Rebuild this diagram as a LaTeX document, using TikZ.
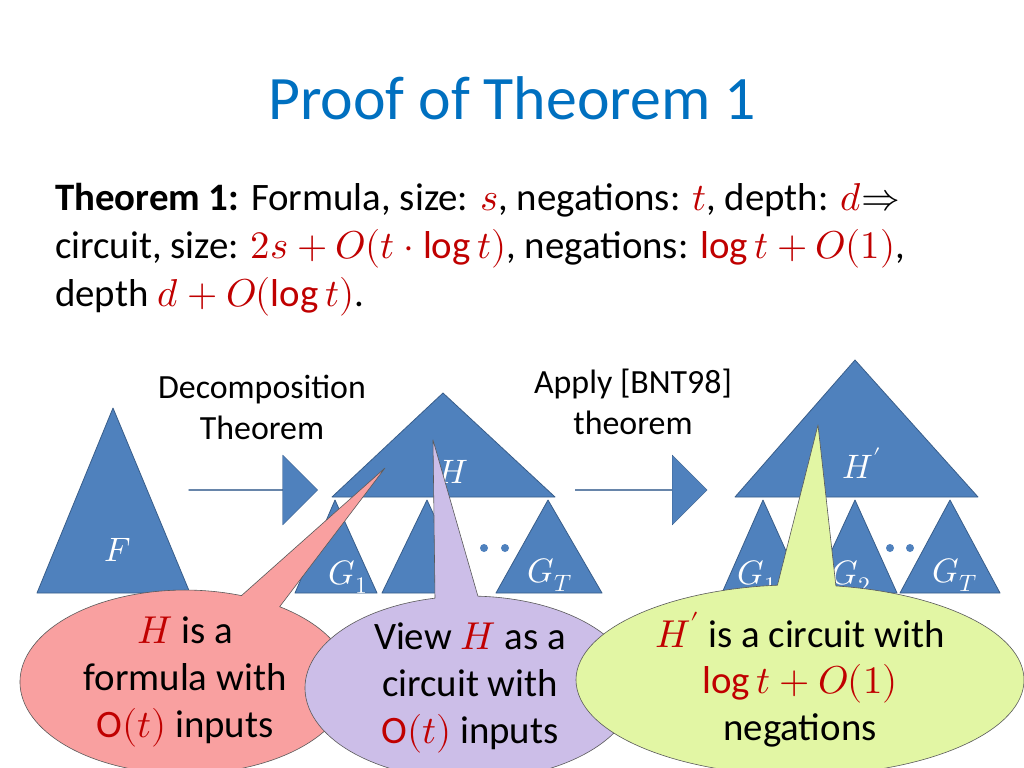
\documentclass[tikz,border=0pt]{standalone}
\usepackage{fontspec}
\usepackage{unicode-math}
\setmainfont{Carlito}
\setmathfont{Latin Modern Math}
\usetikzlibrary{shapes.callouts,shapes.arrows}
\definecolor{tri}{RGB}{79,129,189}
\definecolor{triline}{RGB}{56,93,138}
\definecolor{ttl}{RGB}{0,112,192}
\definecolor{mred}{RGB}{192,0,0}
\definecolor{redfill}{RGB}{249,160,160}
\definecolor{purfill}{RGB}{204,190,232}
\definecolor{grnfill}{RGB}{226,246,164}
\newcommand{\rd}[1]{\textcolor{mred}{$#1$}}
\tikzset{
  tribox/.style={fill=tri,draw=triline,line width=0.8pt},
  bubble/.style={ellipse callout,draw=gray!70!black,line width=0.6pt,align=center,font=\fontsize{39}{47}\selectfont,inner sep=0pt},
  lbl/.style={font=\fontsize{34}{41}\selectfont,align=center},
  mlbl/.style={text=white,font=\fontsize{34}{36}\selectfont},
  bigarrow/.style={single arrow,fill=tri,draw=triline,minimum width=70bp,single arrow head extend=17bp,inner sep=0pt}
}
\begin{document}
\begin{tikzpicture}[line cap=round,line join=round,x=1bp,y=-1bp]
\useasboundingbox[fill=white] (0,0) rectangle (1024,768);
% title and statement
\node[text=ttl,font=\fontsize{62}{70}\selectfont] (title) at (512,98) {Proof of Theorem 1};
\node[anchor=north west,align=left,font=\fontsize{39}{48}\selectfont,inner sep=0pt] (thm) at (55,183)
 {\textbf{Theorem 1:} Formula, size: \rd{s}, negations: \rd{t}, depth: \rd{d}$\Rightarrow$\\
  circuit, size: \rd{2s+O(t\cdot\log t)}, negations: \rd{\log t+O(1)},\\
  depth \rd{d+O(\log t)}.};
% F
\draw[tribox] (113,408) -- (190,593) -- (37,593) -- cycle;
\node[mlbl] (f) at (118,550) {$F$};
% arrows
\node[bigarrow,minimum height=129bp] (ar1) at (253,490) {};
\node[bigarrow,minimum height=132bp] (ar2) at (641,490) {};
\node[lbl] (dec) at (262,407) {Decomposition\\Theorem};
\node[lbl] (bnt) at (633,402) {Apply [BNT98]\\theorem};
% H and its G's
\draw[tribox] (443,393) -- (555,497) -- (332,497) -- cycle;
\node[mlbl] (h) at (453,472) {$H$};
\draw[tribox] (335,500) -- (377,593) -- (295,593) -- cycle;
\draw[tribox] (427,500) -- (470,593) -- (382,593) -- cycle;
\draw[tribox] (548,500) -- (602,593) -- (496,593) -- cycle;
\node[mlbl] (g1) at (348,577) {$G_1$};
\node[mlbl] (gt) at (550,575) {$G_T$};
\foreach \x in {484,505} \fill[tri] (\x,548) circle (4bp);
% H' and its G's
\draw[tribox] (855,360) -- (978,497) -- (735,497) -- cycle;
\node[mlbl] (hp) at (862,463) {$H'$};
\draw[tribox] (763,500) -- (805,593) -- (722,593) -- cycle;
\draw[tribox] (855,500) -- (897,593) -- (812,593) -- cycle;
\draw[tribox] (950,500) -- (1000,593) -- (900,593) -- cycle;
\node[mlbl] (hg1) at (757,577) {$G_1$};
\node[mlbl] (hg2) at (851,577) {$G_2$};
\node[mlbl] (hgt) at (955,575) {$G_T$};
\foreach \x in {870,890,910} \fill[tri] (\x,548) circle (4bp);
% callouts
\node[bubble,fill=redfill,minimum width=330bp,minimum height=150bp,callout absolute pointer={(385,468)}] (cf) at (185,682)
 {\rd{H} is a\\formula with\\\rd{\mathrm{O}(t)} inputs};
\node[bubble,fill=purfill,minimum width=330bp,minimum height=156bp,callout absolute pointer={(433,440)}] (cc) at (470,688)
 {View \rd{H} as a\\circuit with\\\rd{\mathrm{O}(t)} inputs};
\node[bubble,fill=grnfill,minimum width=448bp,minimum height=150bp,callout absolute pointer={(818,425)}] (cn) at (800,680)
 {\rd{H'} is a circuit with\\\rd{\log t+O(1)}\\negations};
\end{tikzpicture}
\end{document}
